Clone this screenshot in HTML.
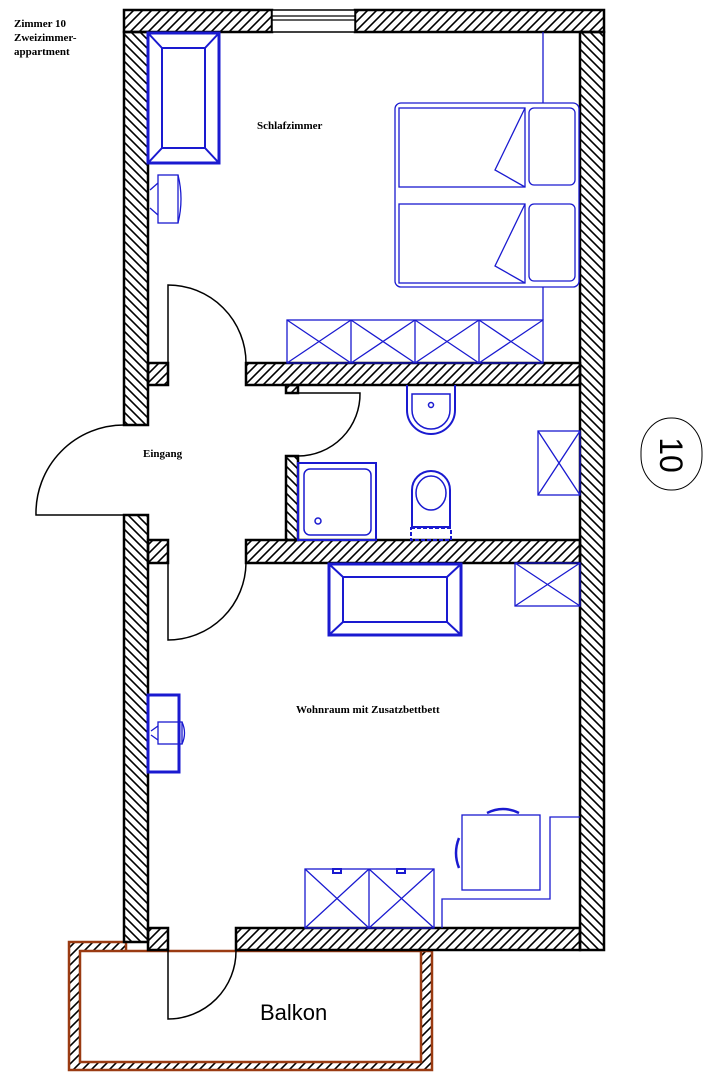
<!DOCTYPE html>
<html><head><meta charset="utf-8"><style>
html,body{margin:0;padding:0;background:#fff;}
svg{display:block;}
text{font-family:"Liberation Serif",serif;font-weight:bold;}
</style></head><body>
<svg width="703" height="1080" viewBox="0 0 703 1080" xmlns="http://www.w3.org/2000/svg">
<defs>
<pattern id="hf" width="9" height="9" patternUnits="userSpaceOnUse">
<path d="M-2,11 L11,-2 M-2,2 L2,-2 M7,11 L11,7" stroke="#000" stroke-width="1.6"/>
</pattern>
<pattern id="hb" width="9" height="9" patternUnits="userSpaceOnUse">
<path d="M-2,-2 L11,11 M-2,7 L2,11 M7,-2 L11,2" stroke="#000" stroke-width="1.6"/>
</pattern>
</defs>
<rect width="703" height="1080" fill="#fff"/>

<!-- labels -->
<text x="14" y="27" font-size="11">Zimmer 10</text>
<text x="14" y="41" font-size="11">Zweizimmer-</text>
<text x="14" y="55" font-size="11">appartment</text>
<text x="257" y="129" font-size="11">Schlafzimmer</text>
<text x="143" y="457" font-size="11">Eingang</text>
<text x="296" y="713" font-size="11">Wohnraum mit Zusatzbettbett</text>
<text x="260" y="1020" font-size="22" style="font-family:'Liberation Sans',sans-serif;font-weight:normal">Balkon</text>

<!-- balcony -->
<path fill-rule="evenodd" fill="url(#hf)" stroke="#9a3b12" stroke-width="2.5"
 d="M69,942 H126 V951 H432 V1070 H69 Z M80,951 H421 V1062 H80 Z"/>

<!-- walls -->
<g stroke="#000" stroke-width="2.5">
<rect x="124" y="10" width="148" height="22" fill="url(#hf)"/>
<rect x="355" y="10" width="249" height="22" fill="url(#hf)"/>
<rect x="272" y="10" width="83" height="22" fill="#fff" stroke-width="1.5"/>
<line x1="272" y1="16" x2="355" y2="16" stroke-width="1.2"/>
<line x1="272" y1="20" x2="355" y2="20" stroke-width="1.2"/>
<rect x="124" y="32" width="24" height="393" fill="url(#hb)"/>
<rect x="148" y="363" width="20" height="22" fill="url(#hf)"/>
<rect x="124" y="515" width="24" height="427" fill="url(#hb)"/>
<rect x="148" y="540" width="20" height="23" fill="url(#hf)"/>
<rect x="148" y="928" width="20" height="22" fill="url(#hf)"/>
<rect x="580" y="32" width="24" height="918" fill="url(#hb)"/>
<rect x="246" y="363" width="334" height="22" fill="url(#hf)"/>
<rect x="286" y="385" width="12" height="8" fill="url(#hf)"/>
<rect x="286" y="456" width="12" height="84" fill="url(#hb)"/>
<rect x="246" y="540" width="334" height="23" fill="url(#hf)"/>
<rect x="236" y="928" width="344" height="22" fill="url(#hf)"/>
</g>

<!-- doors -->
<g fill="none" stroke="#000" stroke-width="1.5">
<path d="M168,363 L168,285 A78,78 0 0 1 246,363"/>
<path d="M298,393 L360,393 A62,62 0 0 1 298,456"/>
<path d="M124,515 L36,515 A88,88 0 0 1 124,425"/>
<path d="M168,563 L168,640 A78,78 0 0 0 246,563"/>
<path d="M168,951 L168,1019 A68,68 0 0 0 236,951"/>
</g>

<!-- badge -->
<rect x="641" y="418" width="61" height="72" rx="30" ry="34" fill="#fff" stroke="#000" stroke-width="1"/>
<text x="0" y="0" font-size="32" transform="translate(660,455) rotate(90)" text-anchor="middle" style="font-family:'Liberation Sans',sans-serif;font-weight:normal">10</text>

<!-- blue furniture -->
<g fill="none" stroke="#1a1ad0" stroke-width="1.3">
<rect x="148" y="33" width="71" height="130" stroke-width="3"/>
<rect x="162" y="48" width="43" height="100" stroke-width="2"/>
<path d="M148,33 L162,48 M219,33 L205,48 M148,163 L162,148 M219,163 L205,148" stroke-width="2"/>
<rect x="158" y="175" width="20" height="48"/>
<path d="M178,175 Q184,199 178,223 M158,183 L150,190 M158,215 L150,208"/>
<rect x="395" y="103" width="184" height="184" rx="6"/>
<rect x="399" y="108" width="126" height="79"/>
<rect x="399" y="204" width="126" height="79"/>
<path d="M525,108 L495,170 L525,187 M525,204 L495,266 L525,283"/>
<rect x="529" y="108" width="46" height="77" rx="5"/>
<rect x="529" y="204" width="46" height="77" rx="5"/>
<line x1="543" y1="32" x2="543" y2="103"/>
<line x1="543" y1="287" x2="543" y2="320"/>
<rect x="287" y="320" width="256" height="43"/>
<path d="M351,320 V363 M415,320 V363 M479,320 V363"/>
<path d="M287,320 L351,363 M351,320 L287,363 M351,320 L415,363 M415,320 L351,363 M415,320 L479,363 M479,320 L415,363 M479,320 L543,363 M543,320 L479,363"/>
<path d="M407,385 V410 A22,22 0 0 0 455,410 V385" stroke-width="2"/>
<path d="M412,394 V410 A17,17 0 0 0 450,410 V394 Z" stroke-width="1.5"/>
<circle cx="431" cy="405" r="2.5" stroke-width="1.5"/>
<path d="M412,527 V490 A19,19 0 0 1 450,490 V527 Z" stroke-width="2"/>
<ellipse cx="431" cy="493" rx="15" ry="17" stroke-width="1.5"/>
<rect x="411" y="528" width="40" height="12" stroke-width="2" stroke-dasharray="4,2"/>
<rect x="298" y="463" width="78" height="77" stroke-width="2"/>
<rect x="304" y="469" width="67" height="66" rx="6" stroke-width="1.5"/>
<circle cx="318" cy="521" r="3" stroke-width="1.5"/>
<rect x="538" y="431" width="42" height="64"/>
<path d="M538,431 L580,495 M580,431 L538,495"/>
<rect x="329" y="564" width="132" height="71" stroke-width="3"/>
<rect x="343" y="577" width="104" height="45" stroke-width="2"/>
<path d="M329,564 L343,577 M461,564 L447,577 M329,635 L343,622 M461,635 L447,622" stroke-width="2"/>
<rect x="515" y="563" width="65" height="43"/>
<path d="M515,563 L580,606 M580,563 L515,606"/>
<rect x="148" y="695" width="31" height="77" stroke-width="3"/>
<rect x="158" y="722" width="24" height="22"/>
<path d="M182,722 Q187,733 182,744 M158,726 L151,731 M158,740 L151,735"/>
<rect x="462" y="815" width="78" height="75"/>
<path d="M487,813 Q503,805 519,813" stroke-width="2.5"/>
<path d="M459,838 Q453,853 459,868" stroke-width="2.5"/>
<path d="M442,928 V899 H550 V817 H580"/>
<rect x="305" y="869" width="129" height="59"/>
<line x1="369" y1="869" x2="369" y2="928"/>
<path d="M305,869 L369,928 M369,869 L305,928 M369,869 L434,928 M434,869 L369,928"/>
<rect x="333" y="869" width="8" height="4" stroke-width="2"/>
<rect x="397" y="869" width="8" height="4" stroke-width="2"/>
</g>
</svg>
</body></html>
